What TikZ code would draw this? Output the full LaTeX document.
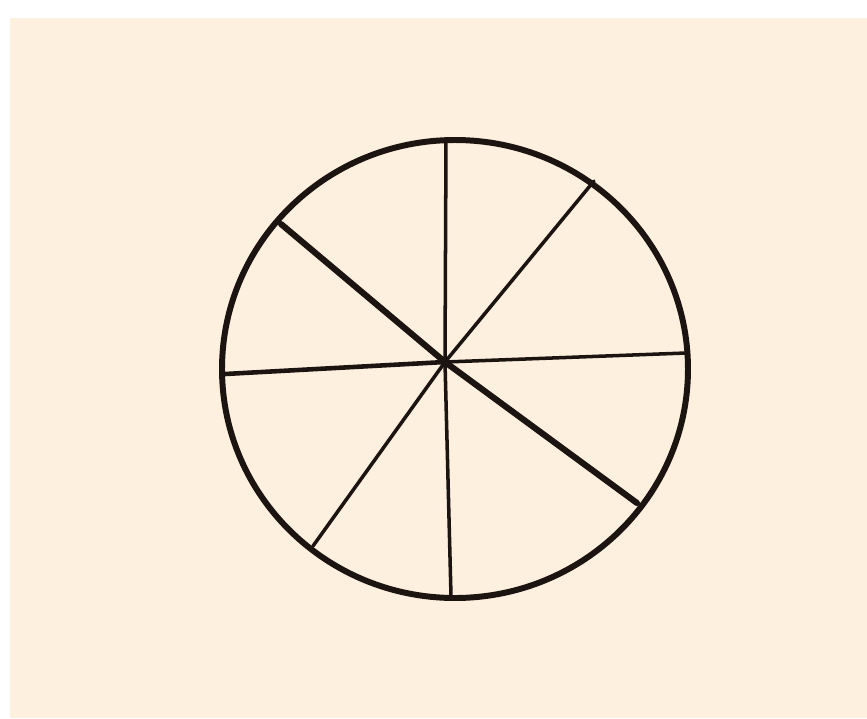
\documentclass[tikz,border=0pt]{standalone}
\usepackage{tikz}
\usetikzlibrary{calc}
\definecolor{PaperCream}{RGB}{253,240,222}
\definecolor{InkBrown}{RGB}{28,20,16}

\begin{document}
\begin{tikzpicture}[x=0.02cm, y=-0.02cm, line cap=round, line join=round,
    rim/.style={draw=InkBrown, line width=3.4pt},
    spoke/.style={draw=InkBrown, line width=2.0pt},
    heavyspoke/.style={draw=InkBrown, line width=3.5pt}]
  % page and paper
  \fill[white] (0,0) rectangle (867,718);
  \fill[PaperCream] (10,18) rectangle (867,718);
  \useasboundingbox (0,0) rectangle (867,718);
  % hub and rim points
  \coordinate (hub) at (445,362);
  \coordinate (top) at (446,141);
  \coordinate (topright) at (594,181);
  \coordinate (right) at (686,353);
  \coordinate (lowright) at (637,503);
  \coordinate (bottom) at (451,596);
  \coordinate (lowleft) at (313,546);
  \coordinate (left) at (225,374);
  \coordinate (upleft) at (281,224);
  % spokes
  \draw[spoke] (hub) -- (top);
  \draw[spoke] (hub) -- (topright);
  \draw[spoke] (hub) -- (right);
  \draw[heavyspoke] (hub) -- (lowright);
  \draw[spoke] (hub) -- (bottom);
  \draw[spoke] (hub) -- (lowleft);
  \draw[spoke, line width=2.6pt] (hub) -- (left);
  \draw[heavyspoke] (hub) -- (upleft);
  % rim
  \draw[rim] (455,369) ellipse [x radius=233, y radius=229];
\end{tikzpicture}
\end{document}
